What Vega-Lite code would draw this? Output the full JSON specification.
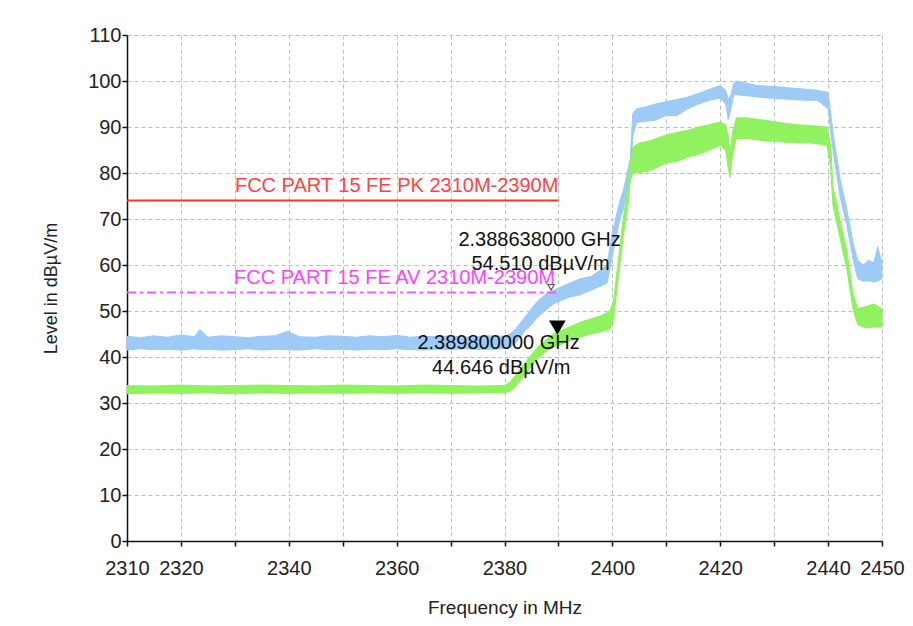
{
  "$schema": "https://vega.github.io/schema/vega-lite/v6.json",
  "width": 755,
  "height": 506,
  "autosize": {"type": "none"},
  "padding": {"left": 127, "top": 35, "right": 31, "bottom": 85},
  "background": "white",
  "config": {"view": {"stroke": null}, "font": "Liberation Sans"},
  "datasets": {
    "pk": [
      {"f": 2310, "lo": 41.5, "hi": 44.5}, {"f": 2312.5, "lo": 41.8, "hi": 44.2}, {"f": 2315, "lo": 41.6, "hi": 44.6},
      {"f": 2317.5, "lo": 41.7, "hi": 44.3}, {"f": 2320, "lo": 41.5, "hi": 44.8}, {"f": 2322.5, "lo": 41.8, "hi": 44.4},
      {"f": 2323.5, "lo": 41.6, "hi": 46.0}, {"f": 2325, "lo": 41.7, "hi": 44.3}, {"f": 2327.5, "lo": 41.5, "hi": 44.6},
      {"f": 2330, "lo": 41.6, "hi": 44.4}, {"f": 2332.5, "lo": 41.8, "hi": 44.2}, {"f": 2335, "lo": 41.5, "hi": 44.5},
      {"f": 2337.5, "lo": 41.7, "hi": 44.6}, {"f": 2339.7, "lo": 41.6, "hi": 45.6}, {"f": 2342, "lo": 41.5, "hi": 44.4},
      {"f": 2345, "lo": 41.8, "hi": 44.3}, {"f": 2347.5, "lo": 41.6, "hi": 44.6}, {"f": 2350, "lo": 41.7, "hi": 44.5},
      {"f": 2352.5, "lo": 41.5, "hi": 44.3}, {"f": 2355, "lo": 41.7, "hi": 44.6}, {"f": 2357.5, "lo": 41.6, "hi": 44.4},
      {"f": 2360, "lo": 41.8, "hi": 44.7}, {"f": 2362.5, "lo": 41.6, "hi": 44.3}, {"f": 2365, "lo": 41.5, "hi": 44.5},
      {"f": 2367.5, "lo": 41.7, "hi": 44.4}, {"f": 2370, "lo": 41.6, "hi": 44.6}, {"f": 2372.5, "lo": 41.8, "hi": 44.3},
      {"f": 2375, "lo": 41.6, "hi": 44.5}, {"f": 2377.5, "lo": 41.7, "hi": 44.6}, {"f": 2380, "lo": 41.8, "hi": 44.5},
      {"f": 2381, "lo": 42.0, "hi": 45.0}, {"f": 2382, "lo": 43.0, "hi": 46.0}, {"f": 2383, "lo": 44.5, "hi": 47.5},
      {"f": 2384, "lo": 46.0, "hi": 49.0}, {"f": 2385, "lo": 47.0, "hi": 50.5}, {"f": 2386, "lo": 48.5, "hi": 52.0},
      {"f": 2387, "lo": 49.5, "hi": 53.0}, {"f": 2388, "lo": 50.5, "hi": 54.0}, {"f": 2389, "lo": 51.5, "hi": 54.5},
      {"f": 2390, "lo": 52.0, "hi": 55.0}, {"f": 2392, "lo": 53.0, "hi": 56.0}, {"f": 2394, "lo": 53.5, "hi": 57.0},
      {"f": 2396, "lo": 54.5, "hi": 57.5}, {"f": 2398, "lo": 55.5, "hi": 59.0}, {"f": 2399, "lo": 56.0, "hi": 60.0},
      {"f": 2400, "lo": 62.0, "hi": 67.0}, {"f": 2401.4, "lo": 70.0, "hi": 74.0}, {"f": 2402, "lo": 72.0, "hi": 76.0},
      {"f": 2403.3, "lo": 79.0, "hi": 83.0}, {"f": 2403.8, "lo": 88.0, "hi": 93.0}, {"f": 2404.5, "lo": 91.0, "hi": 94.0},
      {"f": 2406, "lo": 91.2, "hi": 94.3}, {"f": 2408, "lo": 91.5, "hi": 95.0}, {"f": 2410, "lo": 92.5, "hi": 95.5},
      {"f": 2412, "lo": 92.5, "hi": 96.0}, {"f": 2414, "lo": 94.0, "hi": 96.5}, {"f": 2416, "lo": 95.0, "hi": 97.3},
      {"f": 2418, "lo": 95.8, "hi": 98.2}, {"f": 2420, "lo": 96.3, "hi": 99.0}, {"f": 2421, "lo": 95.0, "hi": 98.0},
      {"f": 2421.5, "lo": 91.5, "hi": 96.0}, {"f": 2422, "lo": 94.0, "hi": 97.0}, {"f": 2422.5, "lo": 97.0, "hi": 99.5},
      {"f": 2423, "lo": 97.0, "hi": 100.0}, {"f": 2425, "lo": 96.8, "hi": 99.5}, {"f": 2427, "lo": 96.5, "hi": 99.0},
      {"f": 2430, "lo": 96.2, "hi": 98.8}, {"f": 2433, "lo": 96.0, "hi": 98.5}, {"f": 2436, "lo": 95.8, "hi": 98.2},
      {"f": 2438, "lo": 95.8, "hi": 98.0}, {"f": 2440, "lo": 94.0, "hi": 97.5}, {"f": 2440.9, "lo": 85.0, "hi": 89.0},
      {"f": 2442.2, "lo": 75.0, "hi": 79.0}, {"f": 2443.5, "lo": 68.5, "hi": 72.0}, {"f": 2444.6, "lo": 61.5, "hi": 65.0},
      {"f": 2445.5, "lo": 57.0, "hi": 61.0}, {"f": 2446.5, "lo": 56.5, "hi": 60.0}, {"f": 2447.5, "lo": 56.5, "hi": 61.0},
      {"f": 2448.5, "lo": 56.3, "hi": 60.5}, {"f": 2449.2, "lo": 56.5, "hi": 64.0}, {"f": 2450, "lo": 57.0, "hi": 60.5}
    ],
    "av": [
      {"f": 2310, "lo": 32.0, "hi": 33.8}, {"f": 2315, "lo": 32.2, "hi": 33.7}, {"f": 2320, "lo": 32.1, "hi": 33.9},
      {"f": 2325, "lo": 32.2, "hi": 33.7}, {"f": 2330, "lo": 32.0, "hi": 33.8}, {"f": 2335, "lo": 32.2, "hi": 33.9},
      {"f": 2340, "lo": 32.1, "hi": 33.8}, {"f": 2345, "lo": 32.2, "hi": 33.7}, {"f": 2350, "lo": 32.1, "hi": 33.9},
      {"f": 2355, "lo": 32.2, "hi": 33.8}, {"f": 2360, "lo": 32.1, "hi": 33.7}, {"f": 2365, "lo": 32.2, "hi": 33.9},
      {"f": 2370, "lo": 32.1, "hi": 33.8}, {"f": 2375, "lo": 32.2, "hi": 33.7}, {"f": 2380, "lo": 32.2, "hi": 33.8},
      {"f": 2381, "lo": 32.5, "hi": 34.5}, {"f": 2382, "lo": 33.5, "hi": 36.0}, {"f": 2383, "lo": 35.0, "hi": 37.5},
      {"f": 2384, "lo": 36.5, "hi": 39.0}, {"f": 2385, "lo": 38.0, "hi": 40.5}, {"f": 2386, "lo": 39.5, "hi": 42.0},
      {"f": 2387, "lo": 40.5, "hi": 43.0}, {"f": 2388, "lo": 41.5, "hi": 44.0}, {"f": 2389, "lo": 42.0, "hi": 45.0},
      {"f": 2390, "lo": 42.5, "hi": 45.5}, {"f": 2392, "lo": 43.5, "hi": 46.5}, {"f": 2394, "lo": 44.3, "hi": 47.5},
      {"f": 2396, "lo": 45.0, "hi": 48.3}, {"f": 2398, "lo": 45.5, "hi": 49.0}, {"f": 2399.5, "lo": 46.0, "hi": 50.0},
      {"f": 2400.2, "lo": 48.0, "hi": 52.0}, {"f": 2400.9, "lo": 55.0, "hi": 59.0}, {"f": 2402, "lo": 66.0, "hi": 70.0},
      {"f": 2402.9, "lo": 73.0, "hi": 77.0}, {"f": 2403.3, "lo": 78.0, "hi": 82.0}, {"f": 2403.8, "lo": 80.0, "hi": 85.6},
      {"f": 2405, "lo": 80.0, "hi": 86.5}, {"f": 2407, "lo": 80.5, "hi": 87.0}, {"f": 2410, "lo": 82.2, "hi": 88.3},
      {"f": 2412, "lo": 82.5, "hi": 88.8}, {"f": 2414, "lo": 83.5, "hi": 89.3}, {"f": 2416, "lo": 84.0, "hi": 90.0},
      {"f": 2418, "lo": 85.0, "hi": 90.5}, {"f": 2420, "lo": 86.0, "hi": 91.1}, {"f": 2421, "lo": 85.0, "hi": 90.5},
      {"f": 2421.5, "lo": 81.0, "hi": 88.0}, {"f": 2421.8, "lo": 79.0, "hi": 84.0}, {"f": 2422.3, "lo": 84.0, "hi": 89.0},
      {"f": 2423, "lo": 87.5, "hi": 92.0}, {"f": 2425, "lo": 87.5, "hi": 92.0}, {"f": 2428, "lo": 87.0, "hi": 91.5},
      {"f": 2431, "lo": 86.8, "hi": 91.0}, {"f": 2434, "lo": 86.5, "hi": 90.5}, {"f": 2437, "lo": 86.5, "hi": 90.3},
      {"f": 2439.8, "lo": 86.0, "hi": 90.0}, {"f": 2440.5, "lo": 81.0, "hi": 86.0}, {"f": 2440.9, "lo": 73.0, "hi": 77.0},
      {"f": 2442.2, "lo": 66.0, "hi": 70.0}, {"f": 2443.5, "lo": 59.0, "hi": 63.0}, {"f": 2444.6, "lo": 50.5, "hi": 54.0},
      {"f": 2445.5, "lo": 47.0, "hi": 50.5}, {"f": 2447, "lo": 46.3, "hi": 51.0}, {"f": 2448.5, "lo": 46.5, "hi": 51.5},
      {"f": 2450, "lo": 46.5, "hi": 50.5}
    ],
    "pkLimit": [{"f": 2310, "level": 74}, {"f": 2390, "level": 74}],
    "avLimit": [{"f": 2310, "level": 54}, {"f": 2390, "level": 54}],
    "limitLabels": [
      {"f": 2360, "level": 77.2, "text": "FCC PART 15 FE PK 2310M-2390M", "kind": "PK"},
      {"f": 2359.6, "level": 57.2, "text": "FCC PART 15 FE AV 2310M-2390M", "kind": "AV"}
    ],
    "markerText": [
      {"f": 2386.5, "level": 65.4, "text": "2.388638000 GHz"},
      {"f": 2386.7, "level": 60.3, "text": "54.510 dBµV/m"},
      {"f": 2378.9, "level": 43.0, "text": "2.389800000 GHz"},
      {"f": 2379.4, "level": 37.7, "text": "44.646 dBµV/m"}
    ],
    "markers": [
      {"f": 2388.638, "level": 54.51, "trace": "PK"},
      {"f": 2389.8, "level": 44.646, "trace": "AV"}
    ]
  },
  "layer": [
    {
      "data": {"name": "pk"},
      "mark": {"type": "area", "color": "#9dcaf6", "stroke": "#9dcaf6", "strokeWidth": 1},
      "encoding": {
        "x": {
          "field": "f", "type": "quantitative",
          "scale": {"domain": [2310, 2450], "nice": false, "zero": false},
          "axis": {
            "title": "Frequency in MHz",
            "values": [2310, 2320, 2330, 2340, 2350, 2360, 2370, 2380, 2390, 2400, 2410, 2420, 2430, 2440, 2450],
            "format": "d",
            "labelExpr": "indexof([2310, 2320, 2340, 2360, 2380, 2400, 2420, 2440, 2450], datum.value) >= 0 ? datum.label : ''",
            "labelFontSize": 20, "labelColor": "#222", "labelPadding": 12, "labelOverlap": false, "labelFlush": false,
            "tickSize": 5, "tickColor": "#111", "tickWidth": 1.5,
            "domainColor": "#111", "domainWidth": 1.5,
            "grid": true, "gridColor": "#bdbdbd", "gridDash": [4, 3], "gridWidth": 1,
            "titleFontSize": 19, "titleFontWeight": "normal", "titleColor": "#222", "titlePadding": 20
          }
        },
        "y": {
          "field": "lo", "type": "quantitative",
          "scale": {"domain": [0, 110], "nice": false},
          "axis": {
            "title": "Level in dBµV/m",
            "values": [0, 5, 10, 15, 20, 25, 30, 35, 40, 45, 50, 55, 60, 65, 70, 75, 80, 85, 90, 95, 100, 105, 110],
            "labelExpr": "datum.value % 10 === 0 ? datum.label : ''",
            "labelFontSize": 20, "labelColor": "#222", "labelPadding": 1, "labelOverlap": false, "labelFlush": false,
            "tickSize": 5, "tickColor": "#111", "tickWidth": 1.5,
            "domainColor": "#111", "domainWidth": 1.5,
            "grid": true, "gridColor": "#bdbdbd", "gridDash": [4, 3], "gridWidth": 1,
            "titleFontSize": 18, "titleFontWeight": "normal", "titleColor": "#222", "titlePadding": 27
          }
        },
        "y2": {"field": "hi"}
      }
    },
    {
      "data": {"name": "av"},
      "mark": {"type": "area", "color": "#90f25e", "stroke": "#90f25e", "strokeWidth": 1},
      "encoding": {
        "x": {"field": "f", "type": "quantitative"},
        "y": {"field": "lo", "type": "quantitative"},
        "y2": {"field": "hi"}
      }
    },
    {
      "data": {"name": "pkLimit"},
      "mark": {"type": "line", "color": "#ff3333", "strokeWidth": 2},
      "encoding": {
        "x": {"field": "f", "type": "quantitative"},
        "y": {"field": "level", "type": "quantitative"}
      }
    },
    {
      "data": {"name": "avLimit"},
      "mark": {"type": "line", "color": "#ff55ff", "strokeWidth": 2, "strokeDash": [9, 4, 3, 4]},
      "encoding": {
        "x": {"field": "f", "type": "quantitative"},
        "y": {"field": "level", "type": "quantitative"}
      }
    },
    {
      "data": {"name": "limitLabels"},
      "mark": {"type": "text", "fontSize": 20, "baseline": "middle", "align": "center"},
      "encoding": {
        "x": {"field": "f", "type": "quantitative"},
        "y": {"field": "level", "type": "quantitative"},
        "text": {"field": "text"},
        "color": {"field": "kind", "type": "nominal", "scale": {"domain": ["PK", "AV"], "range": ["#ff4444", "#ff44ff"]}, "legend": null}
      }
    },
    {
      "data": {"name": "markerText"},
      "mark": {"type": "text", "fontSize": 20, "baseline": "middle", "align": "center", "color": "#111"},
      "encoding": {
        "x": {"field": "f", "type": "quantitative"},
        "y": {"field": "level", "type": "quantitative"},
        "text": {"field": "text"}
      }
    },
    {
      "data": {"name": "markers"},
      "transform": [{"filter": "datum.trace === 'PK'"}],
      "mark": {"type": "point", "shape": "triangle-down", "filled": false, "stroke": "#111", "strokeWidth": 1.2, "size": 40, "yOffset": -3},
      "encoding": {
        "x": {"field": "f", "type": "quantitative"},
        "y": {"field": "level", "type": "quantitative"}
      }
    },
    {
      "data": {"name": "markers"},
      "transform": [{"filter": "datum.trace === 'AV'"}],
      "mark": {"type": "point", "shape": "triangle-down", "filled": true, "color": "#000", "opacity": 1, "size": 280, "yOffset": -8},
      "encoding": {
        "x": {"field": "f", "type": "quantitative"},
        "y": {"field": "level", "type": "quantitative"}
      }
    }
  ]
}
